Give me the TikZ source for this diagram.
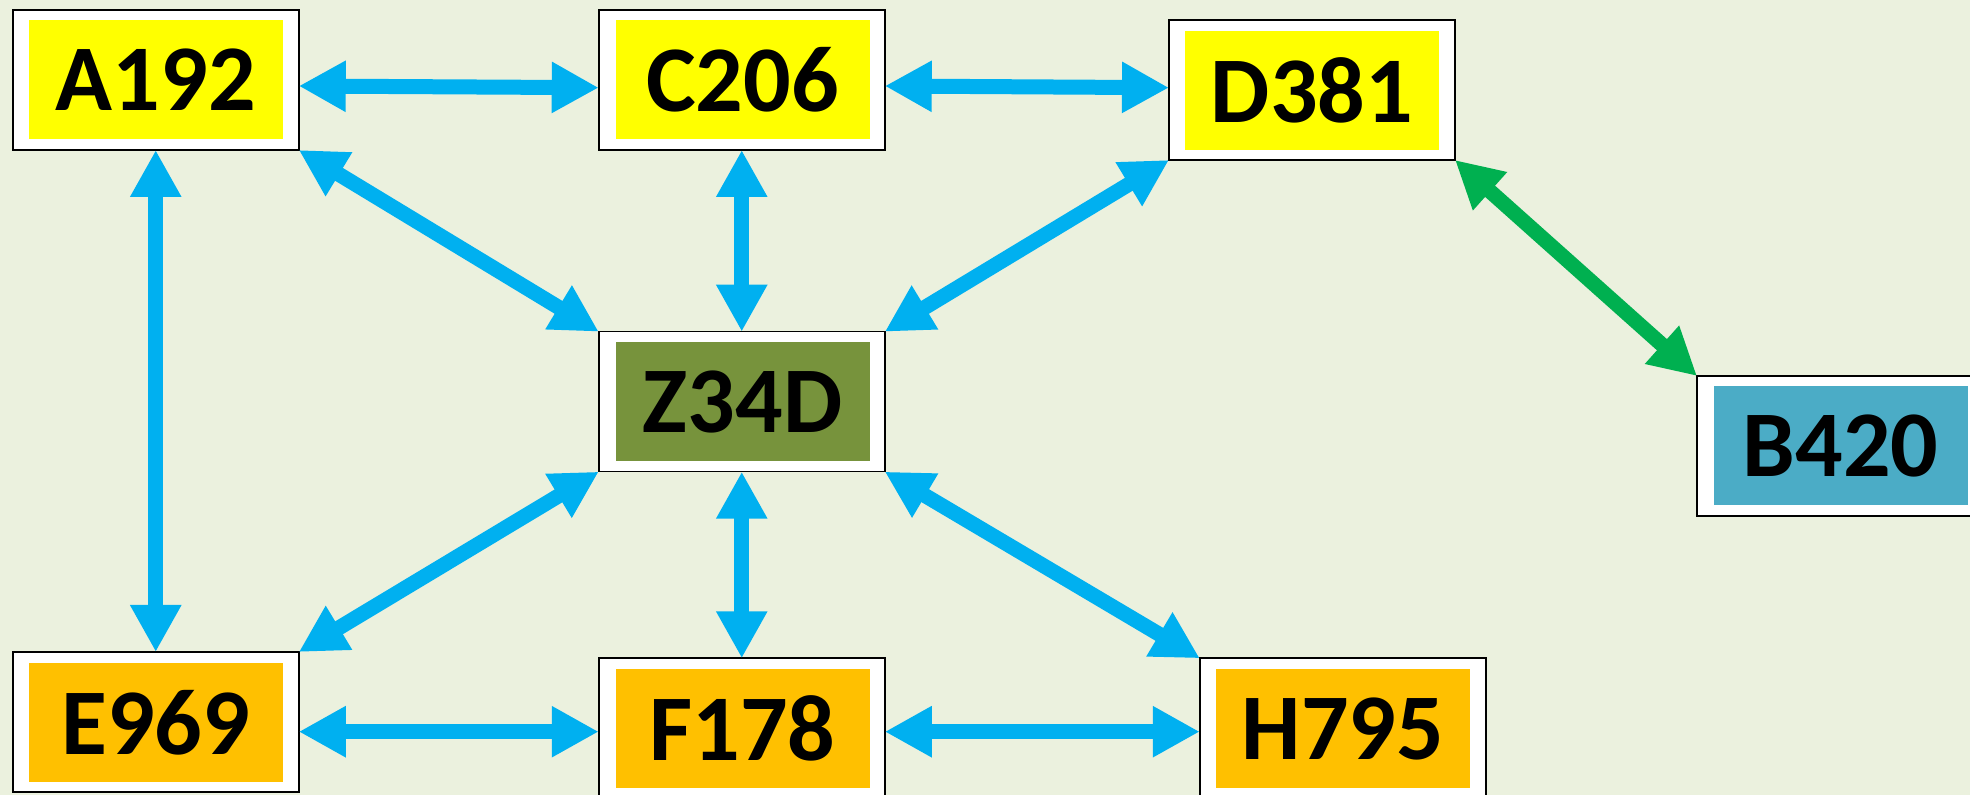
\documentclass[tikz,border=0pt]{standalone}
\usepackage{fontspec}
\setmainfont{Carlito}
\usetikzlibrary{arrows.meta,calc}
\definecolor{bgc}{HTML}{EBF1DE}
\definecolor{arrc}{HTML}{00B0F0}
\definecolor{garrc}{HTML}{00B050}
\definecolor{yelc}{HTML}{FFFF00}
\definecolor{orgc}{HTML}{FFC000}
\definecolor{olvc}{HTML}{77933C}
\definecolor{bluc}{HTML}{4BACC6}
\begin{document}
\begin{tikzpicture}[x=0.5pt,y=-0.5pt,
  outer/.style={draw=black,line width=0.8pt,fill=white,minimum width=143pt,minimum height=70pt,inner sep=0pt,outer sep=0pt},
  inner/.style={minimum width=127pt,minimum height=59.5pt,inner sep=0pt,font=\fontsize{47}{56}\selectfont\bfseries},
  link/.style={draw=arrc,line width=7.5pt,>={Triangle[length=23.5pt,width=24pt]},<->},
  glink/.style={link,draw=garrc}]
\useasboundingbox (0,0) rectangle (1970,795);
\clip (0,0) rectangle (1970,795);
\fill[bgc] (0,0) rectangle (1970,795);

\node[outer] (A192) at (155.75,80) {};
\node[inner,fill=yelc] (A192t) at (155.75,80) {A192};
\node[outer] (C206) at (741.75,80) {};
\node[inner,fill=yelc] (C206t) at (742.5,80) {C206};
\node[outer] (D381) at (1312,90) {};
\node[inner,fill=yelc] (D381t) at (1312,90.3) {D381};
\node[outer] (Z34D) at (741.75,401.7) {};
\node[inner,fill=olvc] (Z34Dt) at (742.5,402) {Z34D};
\node[outer] (B420) at (1840,446) {};
\node[inner,fill=bluc] (B420t) at (1840.5,446) {B420};
\node[outer] (E969) at (155.75,722) {};
\node[inner,fill=orgc] (E969t) at (155.75,722.3) {E969};
\node[outer] (F178) at (741.75,728.3) {};
\node[inner,fill=orgc] (F178t) at (742.5,728.8) {F178};
\node[outer] (H795) at (1342.8,728.3) {};
\node[inner,fill=orgc] (H795t) at (1343,728.8) {H795};

\draw[link] ($(A192.east)+(0,6)$) -- ($(C206.west)+(0,7.7)$);
\draw[link] ($(C206.east)+(0,6)$) -- ($(D381.west)+(0,-2.3)$);
\draw[link] (C206.south) -- (Z34D.north);
\draw[link] (D381.south west) -- (Z34D.north east);
\draw[link] (A192.south east) -- (Z34D.north west);
\draw[link] (A192.south) -- (E969.north);
\draw[link] (Z34D.south west) -- (E969.north east);
\draw[link] (Z34D.south) -- (F178.north);
\draw[link] (Z34D.south east) -- (H795.north west);
\draw[link] ($(E969.east)+(0,9.7)$) -- ($(F178.west)+(0,3.4)$);
\draw[link] ($(F178.east)+(0,3.4)$) -- ($(H795.west)+(0,3.4)$);
\draw[glink] (D381.south east) -- (B420.north west);
\end{tikzpicture}
\end{document}
